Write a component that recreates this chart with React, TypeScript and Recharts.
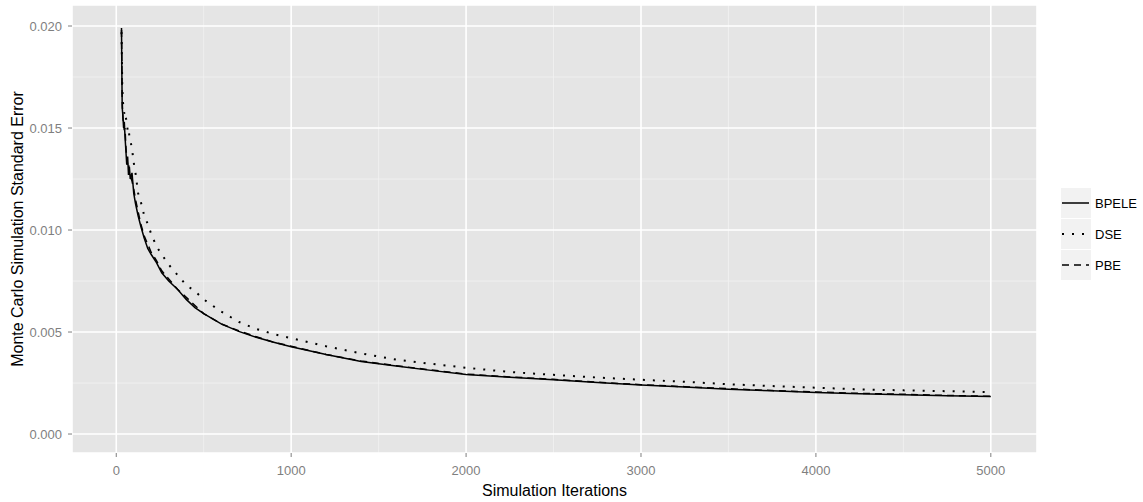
import { LineChart, Line, XAxis, YAxis, CartesianGrid } from 'recharts';

const iterations = [
  30, 32, 34, 38, 42, 46, 50, 55, 60, 65, 70, 75, 80, 90, 100, 110, 125, 140, 160, 180,
  200, 230, 260, 300, 350, 400, 450, 500, 600, 700, 800, 900, 1000, 1200, 1400, 1600,
  1800, 2000, 2250, 2500, 2750, 3000, 3250, 3500, 3750, 4000, 4250, 4500, 4750, 5000,
];

const bpele = [
  0.0199, 0.0178, 0.016, 0.0156, 0.015, 0.0153, 0.0146, 0.0139, 0.0132, 0.0136, 0.0127,
  0.0131, 0.0125, 0.0128, 0.0118, 0.0113, 0.0107, 0.0102, 0.0096, 0.0091, 0.0088, 0.0084,
  0.0079, 0.0075, 0.0071, 0.0066, 0.0062, 0.0059, 0.0054, 0.00503, 0.00474, 0.0045, 0.00428,
  0.0039, 0.00356, 0.00333, 0.00312, 0.00292, 0.00278, 0.00266, 0.00252, 0.0024, 0.0023,
  0.0022, 0.00212, 0.00204, 0.00198, 0.00193, 0.00188, 0.00184,
];

const dse = [
  0.0197, 0.0186, 0.0172, 0.0163, 0.016, 0.0157, 0.0158, 0.0155, 0.0153, 0.0149, 0.015,
  0.0146, 0.0144, 0.014, 0.0133, 0.0128, 0.0118, 0.0114, 0.0107, 0.0103, 0.0098, 0.0092,
  0.0088, 0.0083, 0.0078, 0.0073, 0.007, 0.0066, 0.006, 0.0055, 0.00515, 0.0049, 0.0047,
  0.0043, 0.00395, 0.00365, 0.00344, 0.00325, 0.00304, 0.0029, 0.00277, 0.00266, 0.00256,
  0.00244, 0.00235, 0.00227, 0.00219, 0.00214, 0.0021, 0.00205,
];

const pbe = [
  0.0198, 0.018, 0.0163, 0.0155, 0.0152, 0.0149, 0.015, 0.0141, 0.0135, 0.0132, 0.0133,
  0.0128, 0.0127, 0.0124, 0.012, 0.0115, 0.0109, 0.0103, 0.0097, 0.0093, 0.0089, 0.0085,
  0.008, 0.0076, 0.0071, 0.0067, 0.0063, 0.0059, 0.0054, 0.00506, 0.00477, 0.0045, 0.0043,
  0.0039, 0.00358, 0.00335, 0.00314, 0.00294, 0.0028, 0.00268, 0.00254, 0.00242, 0.00232,
  0.00222, 0.00213, 0.00206, 0.00199, 0.00195, 0.00189, 0.00185,
];

const xTicks = [0, 1000, 2000, 3000, 4000, 5000];
const xMinor = [500, 1500, 2500, 3500, 4500];
const yTicks = [0, 0.005, 0.01, 0.015, 0.02];
const yMinor = [0.0025, 0.0075, 0.0125, 0.0175];

const series = [
  { key: 'BPELE', values: bpele, dash: undefined, width: 1.5 },
  { key: 'DSE', values: dse, dash: '2 8', width: 2 },
  { key: 'PBE', values: pbe, dash: '7 5', width: 1.5 },
];

const data = iterations.map((n, i) => ({
  n,
  BPELE: bpele[i],
  DSE: dse[i],
  PBE: pbe[i],
}));

const FONT = '"Liberation Sans", Arial, sans-serif';
const tickStyle = { fontSize: 13, fill: '#7f7f7f', fontFamily: FONT };

const YTitle = (props: any) => {
  const vb = props.viewBox || {};
  const cy = (vb.y ?? 5) + (vb.height ?? 448) / 2;
  return (
    <text
      x={17}
      y={cy}
      transform={`rotate(-90 17 ${cy})`}
      textAnchor="middle"
      dominantBaseline="central"
      fontSize={16}
      fontFamily={FONT}
      fill="#000"
    >
      Monte Carlo Simulation Standard Error
    </text>
  );
};

export default function App() {
  return (
    <div style={{ position: 'absolute', left: 0, top: 0, width: 1143, height: 502, background: '#fff' }}>
      <LineChart
        width={1143}
        height={502}
        data={data}
        margin={{ top: 5, right: 106, bottom: 0, left: 0 }}
      >
        {/* panel background + minor grid */}
        <CartesianGrid
          fill="#e5e5e5"
          stroke="#f2f2f2"
          strokeWidth={0.8}
          horizontalValues={yMinor}
          verticalValues={xMinor}
        />
        {/* major grid */}
        <CartesianGrid stroke="#ffffff" strokeWidth={1.6} />
        <XAxis
          dataKey="n"
          type="number"
          domain={[-253, 5264]}
          ticks={xTicks}
          allowDataOverflow
          axisLine={false}
          tickSize={4}
          tickMargin={9}
          tickLine={{ stroke: '#7f7f7f' }}
          tick={tickStyle}
          height={49}
          label={{
            value: 'Simulation Iterations',
            position: 'insideBottom',
            offset: 6,
            style: { fontSize: 16, fill: '#000', fontFamily: FONT },
          }}
        />
        <YAxis
          type="number"
          domain={[-0.00093, 0.02103]}
          ticks={yTicks}
          allowDataOverflow
          axisLine={false}
          width={72}
          tickSize={4}
          tickMargin={6}
          tickLine={{ stroke: '#7f7f7f' }}
          tick={tickStyle}
          tickFormatter={(v: number) => v.toFixed(3)}
          label={{ content: YTitle }}
        />
        {series.map((s) => (
          <Line
            key={s.key}
            dataKey={s.key}
            type="linear"
            stroke="#000"
            strokeWidth={s.width}
            strokeDasharray={s.dash}
            dot={false}
            activeDot={false}
            isAnimationActive={false}
          />
        ))}
      </LineChart>
      <div style={{ position: 'absolute', left: 1061, top: 188, fontFamily: FONT }}>
        {series.map((s) => (
          <div key={s.key} style={{ display: 'flex', alignItems: 'center', height: 30, marginBottom: 1 }}>
            <svg width={30} height={30} style={{ display: 'block' }}>
              <rect x={0} y={0} width={30} height={30} fill="#f2f2f2" />
              <line
                x1={1}
                x2={28}
                y1={15}
                y2={15}
                stroke="#000"
                strokeWidth={s.width}
                strokeDasharray={s.dash}
              />
            </svg>
            <span style={{ marginLeft: 4, fontSize: 13, color: '#000' }}>{s.key}</span>
          </div>
        ))}
      </div>
    </div>
  );
}
